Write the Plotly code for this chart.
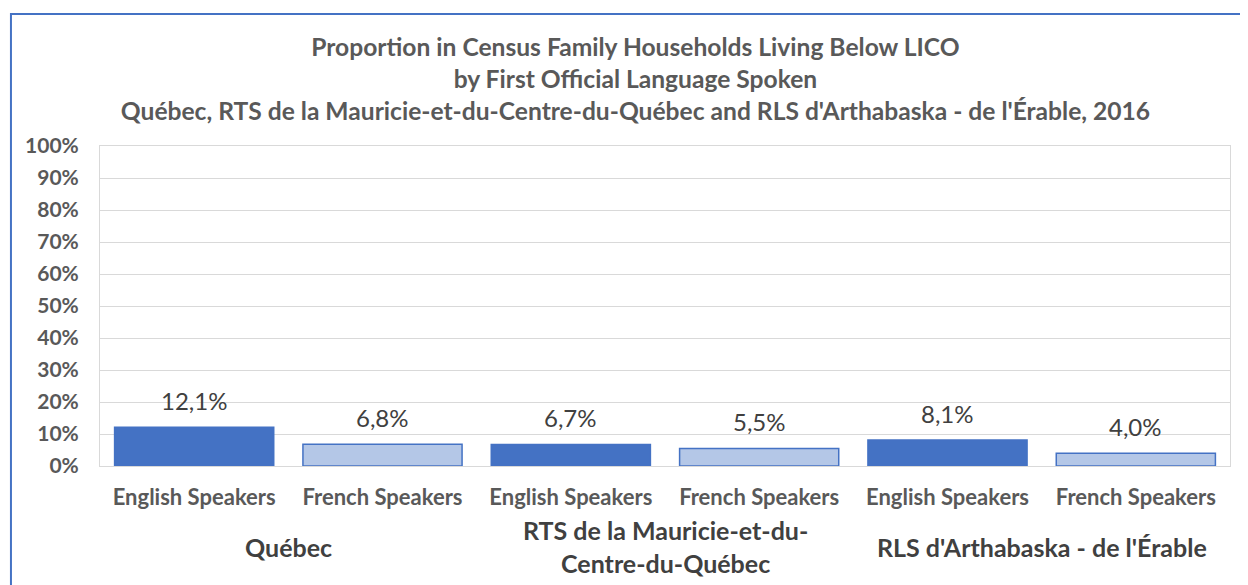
import plotly.graph_objects as go

categories = ["English Speakers", "French Speakers", "English Speakers",
              "French Speakers", "English Speakers", "French Speakers"]
groups = ["Québec", "RTS de la Mauricie-et-du-<br>Centre-du-Québec", "RLS d'Arthabaska - de l'Érable"]
values = [0.121, 0.068, 0.067, 0.055, 0.081, 0.040]
value_labels = ["12,1%", "6,8%", "6,7%", "5,5%", "8,1%", "4,0%"]
y_ticks = [0, 0.1, 0.2, 0.3, 0.4, 0.5, 0.6, 0.7, 0.8, 0.9, 1.0]

FONT = "Lato"
DARK = "#4472C4"
LIGHT = "#B4C7E7"
xs = list(range(len(categories)))
colors = [DARK if c.startswith("English") else LIGHT for c in categories]

fig = go.Figure()
fig.add_trace(go.Bar(
    x=xs, y=values,
    marker=dict(color=colors, line=dict(color=DARK, width=1.5)),
    width=0.845, hoverinfo="skip",
))

for x, v, t in zip(xs, values, value_labels):
    fig.add_annotation(x=x, y=v, text=t, showarrow=False, yshift=27,
                       font=dict(family=FONT, size=24, color="#404040"))

for i, g in enumerate(groups):
    fig.add_annotation(x=2 * i + 0.5, y=-0.253, yref="paper", yanchor="middle",
                       text=g, showarrow=False,
                       font=dict(family=FONT, size=25, color="#404040", weight="bold"),
                       align="center")

fig.add_shape(type="rect", xref="paper", yref="paper",
              x0=-0.0788, y0=-0.6, x1=1.2, y1=1.4125,
              line=dict(color=DARK, width=2), fillcolor="rgba(0,0,0,0)")

fig.update_layout(
    width=1240, height=577,
    margin=dict(l=92, r=18, t=138, b=119),
    paper_bgcolor="white", plot_bgcolor="white",
    showlegend=False,
    title=dict(
        text="Proportion in Census Family Households Living Below LICO<br>"
             "by First Official Language Spoken<br>"
             "Québec, RTS de la Mauricie-et-du-Centre-du-Québec and RLS d'Arthabaska - de l'Érable, 2016",
        x=0.506, xref="container", xanchor="center", y=0.916, yanchor="top",
        font=dict(family=FONT, size=24.6, color="#595959", weight="bold"),
    ),
    xaxis=dict(
        tickvals=xs, ticktext=categories, range=[-0.5, 5.5],
        showgrid=False, showline=True, mirror=True, linecolor="#D9D9D9", linewidth=1,
        tickfont=dict(family=FONT, size=22, color="#595959", weight="bold"),
        ticks="", ticklabelstandoff=12,
    ),
    yaxis=dict(
        range=[0, 1], tickvals=y_ticks, tickformat=".0%",
        showgrid=True, gridcolor="#D9D9D9", gridwidth=1,
        showline=True, mirror=True, linecolor="#D9D9D9", linewidth=1,
        zeroline=False,
        tickfont=dict(family=FONT, size=21, color="#595959", weight="bold"),
        ticks="", ticklabelstandoff=16,
    ),
)

fig.write_html("out.html")
